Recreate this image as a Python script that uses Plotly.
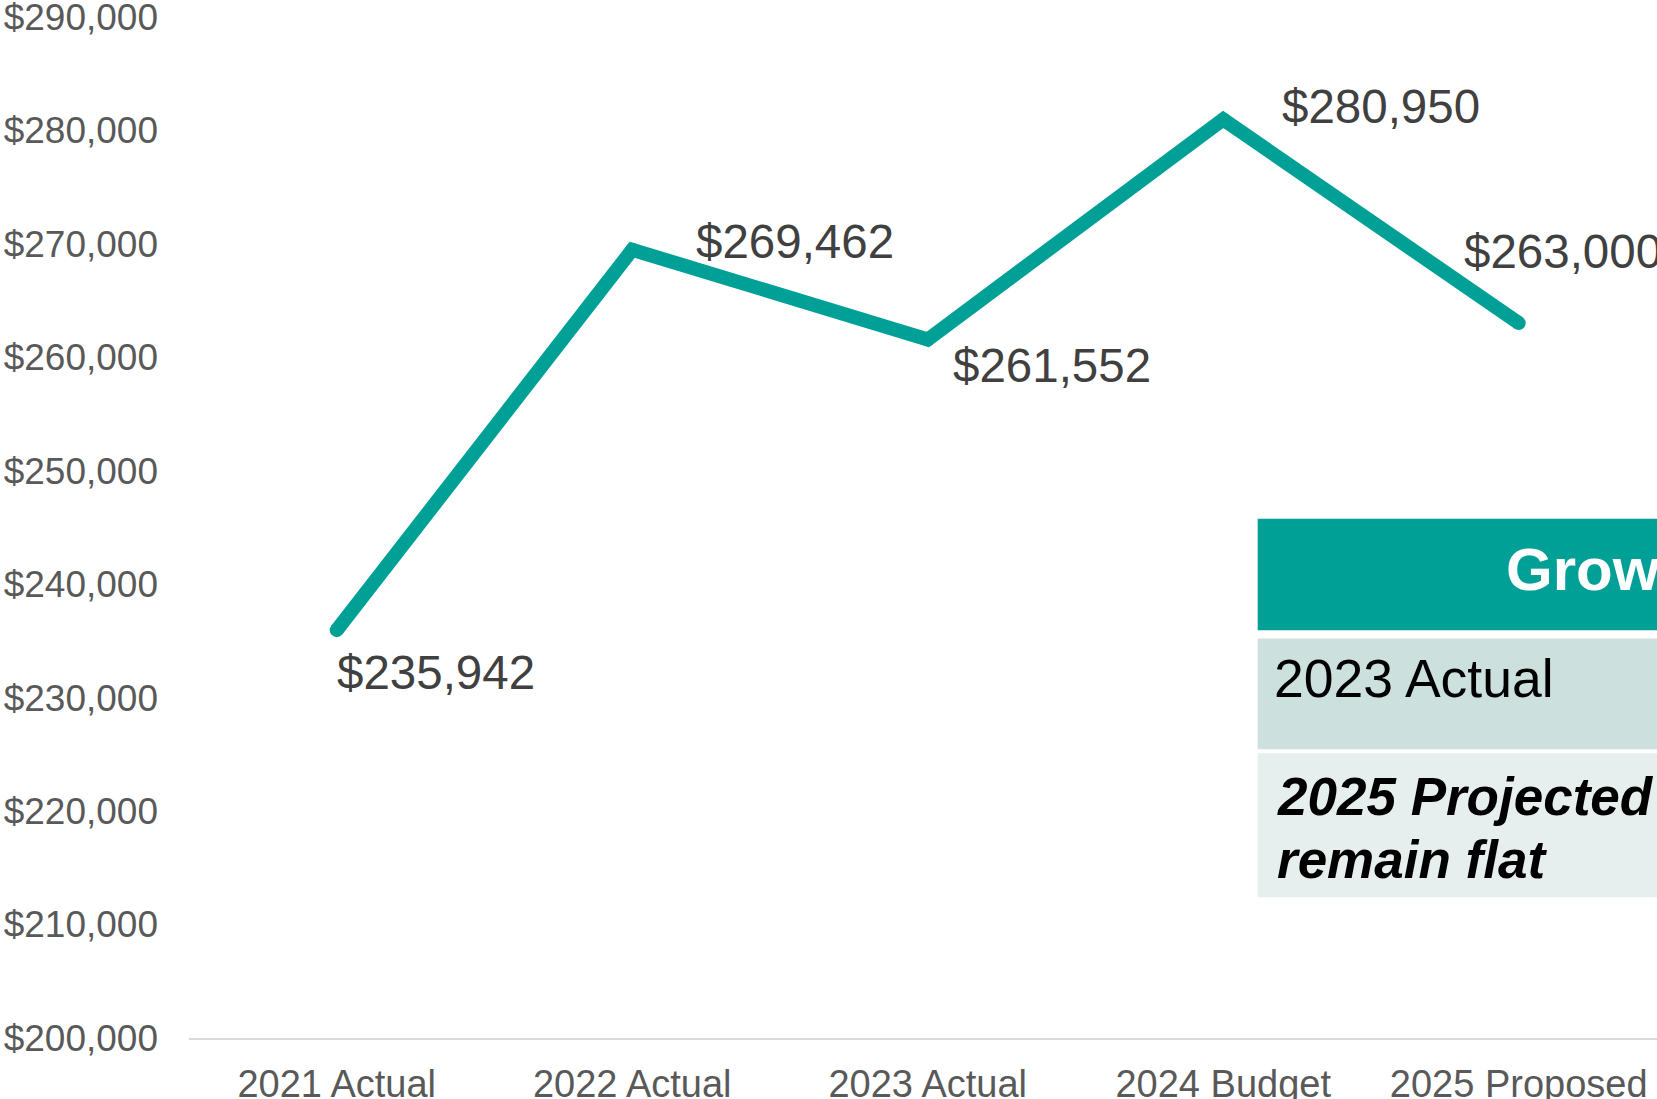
import plotly.graph_objects as go

# Revenue by year
categories = ["2021 Actual", "2022 Actual", "2023 Actual", "2024 Budget", "2025 Proposed"]
values = [235942, 269462, 261552, 280950, 263000]
tick_values = list(range(200000, 290001, 10000))
tick_labels = [f"${v:,}" for v in tick_values]

# Offsets (px) for the value labels relative to each point
label_dx = [-2, 62, 23, 57, -57]
label_dy = [-42, 8, -26, 13, 72]

TEAL = "#00A096"
FONT = "Liberation Sans, Arial, sans-serif"

fig = go.Figure()
# Thick line; round dots at the vertices give rounded joins and caps
fig.add_trace(go.Scatter(
    x=categories, y=values, mode="lines+markers",
    line=dict(color=TEAL, width=14),
    marker=dict(color=TEAL, size=14, line=dict(width=0)),
    hoverinfo="skip", showlegend=False,
))

for c, v, dx, dy in zip(categories, values, label_dx, label_dy):
    fig.add_annotation(
        x=c, y=v, text=f"${v:,}", showarrow=False,
        xanchor="left", yanchor="middle", xshift=dx, yshift=dy,
        font=dict(family=FONT, size=47.5, color="#404040"),
    )

# Summary table panel at the right
rows = [
    dict(y0=0.399, y1=0.508, color=TEAL),
    dict(y0=0.2825, y1=0.391, color="#CCE0DD"),
    dict(y0=0.1378, y1=0.2786, color="#E6EFEE"),
]
for r in rows:
    fig.add_shape(type="rect", xref="paper", yref="paper",
                  x0=0.728, x1=1.3, y0=r["y0"], y1=r["y1"],
                  fillcolor=r["color"], line=dict(width=0), layer="above")

fig.add_annotation(xref="paper", yref="paper", x=0.896, y=0.4585,
                   text="<b>Growth</b>", showarrow=False,
                   xanchor="left", yanchor="middle",
                   font=dict(family=FONT, size=60, color="white"))
fig.add_annotation(xref="paper", yref="paper", x=0.738, y=0.352,
                   text="2023 Actual", showarrow=False,
                   xanchor="left", yanchor="middle",
                   font=dict(family=FONT, size=53.5, color="black"))
fig.add_annotation(xref="paper", yref="paper", x=0.740, y=0.236,
                   text="<b><i>2025 Projected</i></b>", showarrow=False,
                   xanchor="left", yanchor="middle",
                   font=dict(family=FONT, size=53, color="black"))
fig.add_annotation(xref="paper", yref="paper", x=0.740, y=0.175,
                   text="<b><i>remain flat</i></b>", showarrow=False,
                   xanchor="left", yanchor="middle",
                   font=dict(family=FONT, size=53, color="black"))

fig.update_layout(
    width=1657, height=1099,
    margin=dict(l=189, r=0, t=16, b=61, autoexpand=False),
    plot_bgcolor="white", paper_bgcolor="white",
    font=dict(family=FONT, color="#595959"),
    xaxis=dict(
        type="category", range=[-0.5, 4.468], automargin=False,
        showgrid=False, zeroline=False,
        showline=True, linecolor="#D9D9D9", linewidth=2,
        ticks="", tickfont=dict(size=38, color="#595959"),
        ticklabelstandoff=11, ticklabeloverflow="allow",
    ),
    yaxis=dict(
        range=[200000, 290060], automargin=False,
        tickvals=tick_values, ticktext=tick_labels,
        showgrid=False, zeroline=False, showline=False,
        ticks="", tickfont=dict(size=37, color="#595959"),
        ticklabelstandoff=30, ticklabeloverflow="allow",
    ),
)

fig.write_html("out.html")
